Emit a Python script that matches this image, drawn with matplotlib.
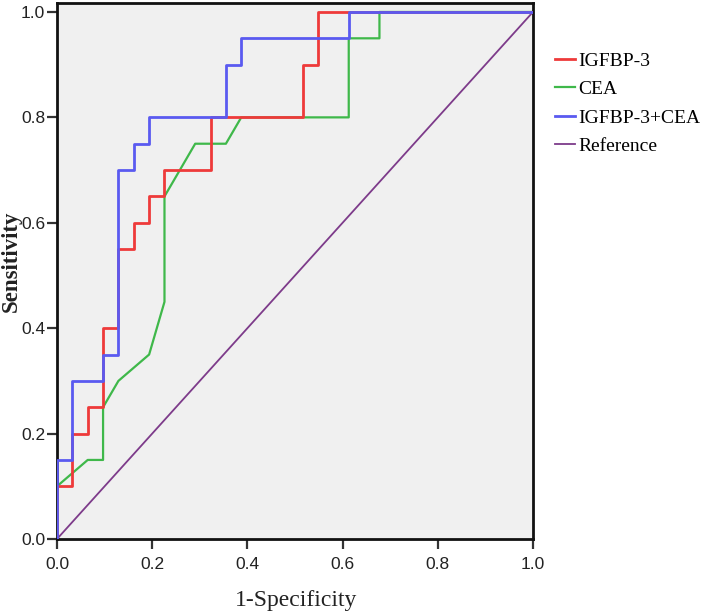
import matplotlib
matplotlib.use("Agg")
import matplotlib.pyplot as plt
from matplotlib import font_manager
import numpy as np

n = 31  # negatives (x step = 1/31)
labels = ["IGFBP-3", "CEA", "IGFBP-3+CEA", "Reference"]

igfbp_x = np.array([0, 0, 1, 1, 2, 2, 3, 3, 4, 4, 5, 5, 6, 6, 7, 7, 10, 10, 16, 16, 17, 17, 31]) / n
igfbp_y = [0, 0.10, 0.10, 0.20, 0.20, 0.25, 0.25, 0.40, 0.40, 0.55, 0.55, 0.60, 0.60, 0.65, 0.65, 0.70, 0.70, 0.80, 0.80, 0.90, 0.90, 1.0, 1.0]

cea_x = np.array([0, 0, 2, 3, 3, 4, 6, 7, 7, 9, 11, 12, 19, 19, 21, 21, 31]) / n
cea_y = [0, 0.10, 0.15, 0.15, 0.25, 0.30, 0.35, 0.45, 0.65, 0.75, 0.75, 0.80, 0.80, 0.95, 0.95, 1.0, 1.0]

comb_x = np.array([0, 0, 1, 1, 3, 3, 4, 4, 5, 5, 6, 6, 11, 11, 12, 12, 19, 19, 31]) / n
comb_y = [0, 0.15, 0.15, 0.30, 0.30, 0.35, 0.35, 0.70, 0.70, 0.75, 0.75, 0.80, 0.80, 0.90, 0.90, 0.95, 0.95, 1.0, 1.0]

ref_x = [0, 1]
ref_y = [0, 1]

ticks = [0.0, 0.2, 0.4, 0.6, 0.8, 1.0]
tick_labels = ["0.0", "0.2", "0.4", "0.6", "0.8", "1.0"]

available = {f.name for f in font_manager.fontManager.ttflist}
tick_family = "Liberation Sans"
tick_size = 12.5
for cand, sz in [("Liberation Sans Narrow", 13), ("Arial Narrow", 13)]:
    if cand in available:
        tick_family, tick_size = cand, sz
        break

fig = plt.figure(figsize=(7.09, 6.12), dpi=100)
ax = fig.add_axes([57/709, 1-539/612, (533-57)/709, (539-3)/612])
ax.set_facecolor("#f0f0f0")

l1, = ax.plot(igfbp_x, igfbp_y, color="#ee3a3a", lw=2.0, label=labels[0], zorder=3)
l2, = ax.plot(cea_x, cea_y, color="#3fb84a", lw=1.6, label=labels[1], zorder=2)
l3, = ax.plot(comb_x, comb_y, color="#5a5af0", lw=2.0, label=labels[2], zorder=4)
l4, = ax.plot(ref_x, ref_y, color="#7d3b8a", lw=1.3, label=labels[3], zorder=1)

ax.set_xlim(0, 1)
ax.set_ylim(0, 1.017)
ax.set_xticks(ticks)
ax.set_xticklabels(tick_labels)
ax.set_yticks(ticks)
ax.set_yticklabels(tick_labels)

for lab in ax.get_xticklabels() + ax.get_yticklabels():
    lab.set_family(tick_family)
    lab.set_fontsize(tick_size)
    lab.set_color("#222222")
ax.tick_params(direction="out", length=7, width=1.6, color="#333333")
ax.tick_params(axis="x", pad=6)
ax.tick_params(axis="y", pad=1.5)
for s in ax.spines.values():
    s.set_linewidth(2.0)
    s.set_color("#111111")

ax.set_xlabel("1-Specificity", fontproperties=font_manager.FontProperties(family="Liberation Serif", size=17))
ax.set_ylabel("Sensitivity", fontproperties=font_manager.FontProperties(family="Liberation Serif", size=16.5, weight="bold"))
ax.xaxis.set_label_coords(0.502, -0.095)
ax.yaxis.set_label_coords(-0.097, 0.519)
ax.yaxis.label.set_va("center")
ax.yaxis.label.set_color("#222222")
ax.xaxis.label.set_color("#222222")

leg = fig.legend(handles=[l1, l2, l3, l4], loc="upper left",
                 bbox_to_anchor=(555/709, 1-52/612), frameon=False,
                 prop={"family": "Liberation Serif", "size": 14},
                 handlelength=1.05, handletextpad=0.15, labelspacing=0.56,
                 borderaxespad=0, borderpad=0)

fig.savefig("out.png", dpi=100, facecolor="white")
